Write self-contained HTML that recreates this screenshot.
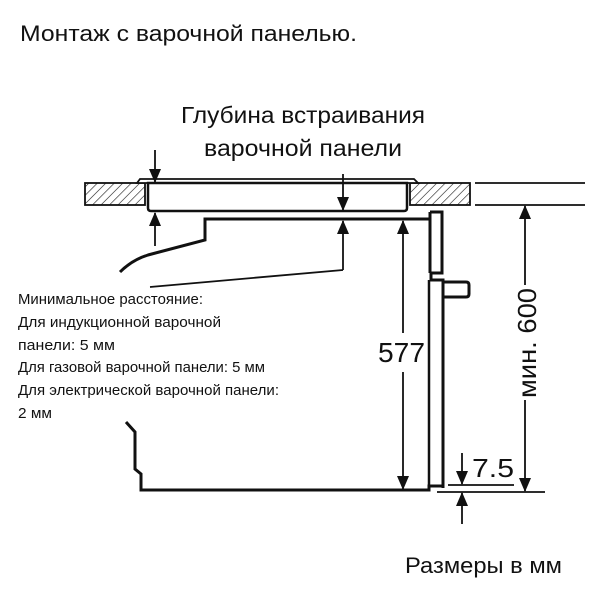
<!DOCTYPE html>
<html><head><meta charset="utf-8"><style>
html,body{margin:0;padding:0;background:#fff;}
svg{display:block;}
text{font-family:"Liberation Sans","DejaVu Sans",sans-serif;fill:#111;}
</style></head><body>
<svg width="600" height="600" viewBox="0 0 600 600" xmlns="http://www.w3.org/2000/svg">
<defs>
<pattern id="h" width="6" height="6" patternUnits="userSpaceOnUse" patternTransform="rotate(45)">
<line x1="0" y1="0" x2="0" y2="6" stroke="#111" stroke-width="1.2"/>
</pattern>
<marker id="a" markerWidth="14" markerHeight="12" refX="13" refY="6" orient="auto" markerUnits="userSpaceOnUse">
<path d="M0,0 L14,6 L0,12 z" fill="#111"/>
</marker>
</defs>
<text x="20" y="41" font-size="22" textLength="337" lengthAdjust="spacingAndGlyphs">Монтаж с варочной панелью.</text>
<text x="181" y="123" font-size="23" textLength="244" lengthAdjust="spacingAndGlyphs">Глубина встраивания</text>
<text x="204" y="156" font-size="23" textLength="198" lengthAdjust="spacingAndGlyphs">варочной панели</text>

<rect x="85" y="183" width="60" height="22" fill="url(#h)" stroke="#111" stroke-width="1.8"/>
<rect x="410" y="183" width="60" height="22" fill="url(#h)" stroke="#111" stroke-width="1.8"/>
<line x1="475" y1="183" x2="585" y2="183" stroke="#111" stroke-width="1.8"/>
<line x1="475" y1="205" x2="585" y2="205" stroke="#111" stroke-width="1.8"/>
<path d="M137,183 L140,179 L414,179 L418,183 Z" fill="#fff" stroke="#111" stroke-width="1.8"/>
<path d="M148,183 L407,183 L407,208 Q407,211 404,211 L151,211 Q148,211 148,208 Z" fill="#fff" stroke="#111" stroke-width="2.5"/>

<path d="M120,272 Q132,260 148,255 L205,240 L205,219 L430,219" fill="none" stroke="#111" stroke-width="3"/>
<path d="M430,212 L442,212 L442,273 L431,273 L431,280 L443,280 L443,488" fill="none" stroke="#111" stroke-width="3"/>
<line x1="430" y1="212" x2="430" y2="273" stroke="#111" stroke-width="3"/>
<path d="M443,282 L466,282 Q469,282 469,285 L469,294 Q469,297 466,297 L443,297" fill="none" stroke="#111" stroke-width="3"/>
<line x1="429" y1="280" x2="429" y2="486" stroke="#111" stroke-width="2.5"/>
<path d="M126,422 L135,432 L135,469 L141,474 L141,490 L429,490 L429,486 L443,486" fill="none" stroke="#111" stroke-width="3"/>

<g stroke="#111" stroke-width="1.8">
<line x1="155" y1="150" x2="155" y2="182" marker-end="url(#a)"/>
<line x1="155" y1="246" x2="155" y2="213" marker-end="url(#a)"/>
<line x1="343" y1="174" x2="343" y2="210" marker-end="url(#a)"/>
<line x1="343" y1="270" x2="343" y2="221" marker-end="url(#a)"/>
<line x1="150" y1="287" x2="343" y2="270"/>
<line x1="403" y1="333" x2="403" y2="221" marker-end="url(#a)"/>
<line x1="403" y1="372" x2="403" y2="489" marker-end="url(#a)"/>
<line x1="525" y1="285" x2="525" y2="206" marker-end="url(#a)"/>
<line x1="525" y1="400" x2="525" y2="491" marker-end="url(#a)"/>
<line x1="437" y1="492" x2="545" y2="492"/>
<line x1="448" y1="485" x2="514" y2="485"/>
<line x1="462" y1="453" x2="462" y2="484" marker-end="url(#a)"/>
<line x1="462" y1="524" x2="462" y2="493" marker-end="url(#a)"/>
</g>
<text x="378" y="362" font-size="28" textLength="47" lengthAdjust="spacingAndGlyphs">577</text>
<text x="472" y="477" font-size="26" textLength="42" lengthAdjust="spacingAndGlyphs">7.5</text>
<text transform="translate(536,398) rotate(-90)" font-size="26" textLength="110" lengthAdjust="spacingAndGlyphs">мин. 600</text>

<g font-size="14.5">
<text x="18" y="304" textLength="185" lengthAdjust="spacingAndGlyphs">Минимальное расстояние:</text>
<text x="18" y="327" textLength="203" lengthAdjust="spacingAndGlyphs">Для индукционной варочной</text>
<text x="18" y="350" textLength="97" lengthAdjust="spacingAndGlyphs">панели: 5 мм</text>
<text x="18" y="372" textLength="247" lengthAdjust="spacingAndGlyphs">Для газовой варочной панели: 5 мм</text>
<text x="18" y="395" textLength="261" lengthAdjust="spacingAndGlyphs">Для электрической варочной панели:</text>
<text x="18" y="418" textLength="34" lengthAdjust="spacingAndGlyphs">2 мм</text>
</g>
<text x="405" y="573" font-size="22" textLength="157" lengthAdjust="spacingAndGlyphs">Размеры в мм</text>
</svg>
</body></html>
